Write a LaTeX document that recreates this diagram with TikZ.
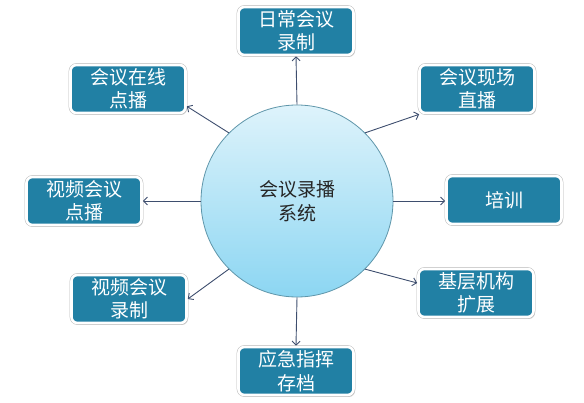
\documentclass[tikz,border=0pt]{standalone}
\usepackage{fontspec}
\setmainfont{Noto Sans CJK SC}
\usetikzlibrary{arrows.meta,shadows}
\definecolor{boxfill}{RGB}{33,128,164}
\definecolor{linecol}{RGB}{62,78,110}
\definecolor{circtop}{RGB}{222,243,251}
\definecolor{circbot}{RGB}{140,214,242}
\definecolor{circedge}{RGB}{95,150,170}
\tikzset{
  x=1pt, y=-1pt,
  item/.style={rounded corners=6pt, fill=boxfill, draw=white, line width=2.6pt,
    preaction={draw=gray!55, line width=3.6pt},
    drop shadow={shadow xshift=1.5pt, shadow yshift=-2pt, fill=gray!60, opacity=.5},
    minimum width=115pt, minimum height=48pt, text=white, align=center,
    font=\fontsize{19}{23.5}\selectfont, inner sep=0pt},
  hub/.style={circle, minimum size=192pt, top color=circtop, bottom color=circbot,
    draw=circedge, line width=0.8pt, align=center, text=black!85,
    font=\fontsize{19}{24}\selectfont, inner sep=0pt},
  link/.style={draw=linecol, line width=0.9pt, -{Straight Barb[length=4pt,width=8pt]}}
}
\begin{document}
\begin{tikzpicture}
\useasboundingbox (0,0) rectangle (584,403);
\node[hub] (c) at (297,201) {会议录播\\系统};
\node[item] (t) at (296,31) {日常会议\\录制};
\node[item] (ul) at (128,89) {会议在线\\点播};
\node[item] (ur) at (477,89) {会议现场\\直播};
\node[item] (l) at (84,201) {视频会议\\点播};
\node[item] (r) at (504,200) {培训};
\node[item] (ll) at (129,299) {视频会议\\录制};
\node[item] (lr) at (476,293) {基层机构\\扩展};
\node[item] (b) at (296,371) {应急指挥\\存档};
\draw[link] (c.north) -- (t.south);
\draw[link] (c.135) -- ([yshift=8pt]ul.south east);
\draw[link] (c.45) -- ([xshift=1pt]ur.south west);
\draw[link] (c.west) -- (l.east |- c.west);
\draw[link] (c.east) -- (r.west |- c.east);
\draw[link] (c.225) -- (ll.east);
\draw[link] (c.-45) -- ([yshift=10pt]lr.west);
\draw[link] (c.south) -- (b.north);
\end{tikzpicture}
\end{document}
